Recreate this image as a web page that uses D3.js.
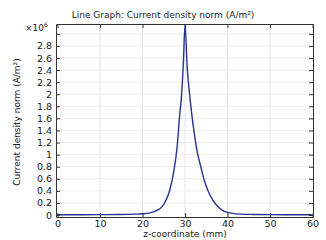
<!DOCTYPE html>
<html><head><meta charset="utf-8">
<script src="https://cdn.jsdelivr.net/npm/d3@7"></script>
<style>body{margin:0;background:#fff}svg{display:block;font-family:"DejaVu Sans",sans-serif}</style>
</head><body><svg id="c" width="326" height="240"></svg>
<script>
(function(){
const zValues = [0, 10, 15, 18, 20, 21.7, 23, 24.5, 25.5, 26.4, 27.3, 28.1, 28.75, 29.2, 29.6, 30, 30.5, 31, 31.5, 32, 32.5, 33, 33.5, 34.5, 35.3, 36.5, 37.7, 39, 40.5, 42.8, 46, 50, 55, 60];
const jValues = [0.004, 0.006, 0.009, 0.014, 0.02, 0.035, 0.065, 0.13, 0.24, 0.41, 0.7, 1.1, 1.66, 2.0, 2.5, 3.16, 2.45, 2.05, 1.72, 1.44, 1.2, 1.0, 0.86, 0.58, 0.42, 0.25, 0.14, 0.07, 0.035, 0.015, 0.009, 0.006, 0.005, 0.004];
const xTicks = [0, 10, 20, 30, 40, 50, 60];
const yTicks = [0, 0.2, 0.4, 0.6, 0.8, 1, 1.2, 1.4, 1.6, 1.8, 2, 2.2, 2.4, 2.6, 2.8, 3];
const yLabels = ["0","0.2","0.4","0.6","0.8","1","1.2","1.4","1.6","1.8","2","2.2","2.4","2.6","2.8",""];
const title = "Line Graph: Current density norm (A/m²)";
const xTitle = "z-coordinate (mm)";
const yTitle = "Current density norm (A/m²)";

const svg = d3.select("#c");
const L = 56, R = 313, T = 24, B = 217;
const x = d3.scaleLinear().domain([-0.35, 60.1]).range([L, R]);
const y = d3.scaleLinear().domain([-0.033, 3.163]).range([B, T]);

const g = svg.append("g");
g.selectAll(".gx").data(xTicks.slice(1, -1)).join("line")
  .attr("x1", d => x(d)).attr("x2", d => x(d)).attr("y1", T).attr("y2", B)
  .attr("stroke", "#e6e6e6").attr("stroke-width", 1);
g.selectAll(".gy").data(yTicks.slice(1)).join("line")
  .attr("x1", L).attr("x2", R).attr("y1", d => y(d)).attr("y2", d => y(d))
  .attr("stroke", "#eeeeee").attr("stroke-width", 1);

const line = d3.line().x((d, i) => x(zValues[i])).y(d => y(d)).curve(d3.curveMonotoneX);
g.append("path").datum(jValues).attr("d", line)
  .attr("fill", "none").attr("stroke", "#27338f").attr("stroke-width", 1.4);

const axBottom = d3.axisBottom(x).tickValues(xTicks).tickSizeInner(-4).tickSizeOuter(0).tickPadding(3);
const axLeft = d3.axisLeft(y).tickValues(yTicks).tickFormat((d, i) => yLabels[i]).tickSizeInner(-4).tickSizeOuter(0).tickPadding(4);
const axTop = d3.axisTop(x).tickValues(xTicks).tickSizeInner(-4).tickSizeOuter(0).tickFormat("");
const axRight = d3.axisRight(y).tickValues(yTicks).tickSizeInner(-4).tickSizeOuter(0).tickFormat("");
[[axBottom, `translate(0,${B})`], [axLeft, `translate(${L},0)`], [axTop, `translate(0,${T})`], [axRight, `translate(${R},0)`]].forEach(([a, t]) => {
  const s = svg.append("g").attr("transform", t).call(a);
  s.select(".domain").attr("stroke", "#333");
  s.selectAll(".tick line").attr("stroke", "#333");
  s.selectAll("text").attr("font-size", 9.5).attr("fill", "#222").attr("font-family", "DejaVu Sans, sans-serif");
});

svg.append("text").attr("x", 163).attr("y", 18).attr("text-anchor", "middle").attr("font-size", 9).attr("fill", "#222").text(title);
svg.append("text").attr("x", 185).attr("y", 237).attr("text-anchor", "middle").attr("font-size", 9).attr("fill", "#222").text(xTitle);
svg.append("text").attr("transform", "translate(20,122) rotate(-90)").attr("text-anchor", "middle").attr("font-size", 9).attr("fill", "#222").text(yTitle);
const m = svg.append("text").attr("x", 25).attr("y", 31).attr("font-size", 9).attr("fill", "#222");
m.append("tspan").text("×10");
m.append("tspan").attr("font-size", 6).attr("dy", -4).text("6");
})();
</script></body></html>
